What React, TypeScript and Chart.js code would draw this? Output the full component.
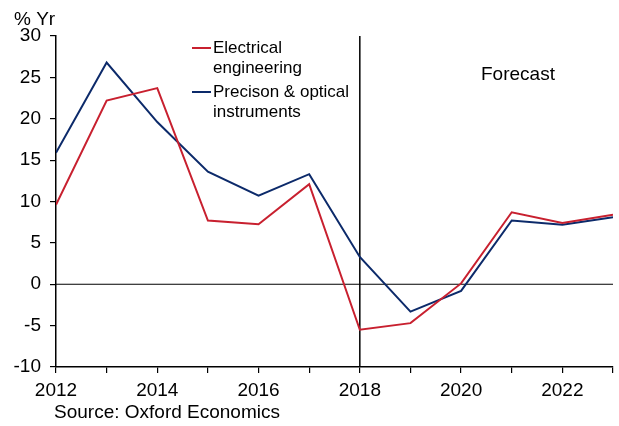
import React, { useEffect, useRef } from "react";
import { Chart, registerables } from "chart.js";

Chart.register(...registerables);

const years = [2012, 2013, 2014, 2015, 2016, 2017, 2018, 2019, 2020, 2021, 2022, 2023];
const electrical = [9.6, 22.2, 23.7, 7.7, 7.25, 12.1, -5.5, -4.7, 0.1, 8.7, 7.4, 8.4];
const precision = [15.9, 26.8, 19.6, 13.6, 10.7, 13.3, 3.3, -3.3, -0.8, 7.7, 7.2, 8.1];
const seriesNames = ["Electrical|engineering", "Precison & optical|instruments"];
const forecastYear = 2018;
const yTicks = [-10, -5, 0, 5, 10, 15, 20, 25, 30];

const RED = "#C8202F";
const BLUE = "#0C2A6A";
const FONT = "'Liberation Sans', Arial, sans-serif";

export default function App() {
  const ref = useRef<HTMLCanvasElement>(null);
  useEffect(() => {
    const ctx = ref.current!;
    const overlay = {
      id: "overlay",
      beforeDatasetsDraw(chart: any) {
        const c = chart.ctx;
        const xs = chart.scales.x;
        const ys = chart.scales.y;
        const area = chart.chartArea;
        c.save();
        c.strokeStyle = "#000";
        c.lineWidth = 1.2;
        const y0 = ys.getPixelForValue(0);
        c.beginPath();
        c.moveTo(area.left, y0);
        c.lineTo(area.right, y0);
        c.stroke();
        const xf = xs.getPixelForValue(forecastYear);
        c.lineWidth = 1.5;
        c.beginPath();
        c.moveTo(xf, area.top);
        c.lineTo(xf, area.bottom);
        c.stroke();
        c.restore();
      },
      afterDraw(chart: any) {
        const c = chart.ctx;
        c.save();
        c.fillStyle = "#000";
        c.textBaseline = "middle";
        c.textAlign = "left";
        c.font = `19px ${FONT}`;
        c.fillText("% Yr", 14, 20);
        c.fillText("Forecast", 481, 75);
        c.fillText("Source: Oxford Economics", 54, 413);
        // legend
        c.font = `17px ${FONT}`;
        const colors = [RED, BLUE];
        const ys0 = [48, 92];
        seriesNames.forEach((n, i) => {
          const y = ys0[i];
          c.strokeStyle = colors[i];
          c.lineWidth = 2;
          c.beginPath();
          c.moveTo(192, y);
          c.lineTo(211, y);
          c.stroke();
          n.split("|").forEach((line, j) => {
            c.fillText(line, 213, y + j * 20);
          });
        });
        c.restore();
      },
    };
    const chart = new Chart(ctx, {
      type: "line",
      data: {
        datasets: [
          {
            label: "Electrical engineering",
            data: years.map((y, i) => ({ x: y, y: electrical[i] })),
            borderColor: RED,
            borderWidth: 2,
            pointRadius: 0,
            tension: 0,
          },
          {
            label: "Precison & optical instruments",
            data: years.map((y, i) => ({ x: y, y: precision[i] })),
            borderColor: BLUE,
            borderWidth: 2,
            pointRadius: 0,
            tension: 0,
          },
        ],
      },
      options: {
        animation: false,
        responsive: false,
        devicePixelRatio: 1,
        layout: { padding: { top: 36, right: 5, left: 0, bottom: 0 } },
        plugins: { legend: { display: false }, tooltip: { enabled: false } },
        scales: {
          x: {
            type: "linear",
            min: 2012,
            max: 2023,
            afterFit(s: any) {
              s.height = 59;
            },
            afterBuildTicks(s: any) {
              s.ticks = years.map((v) => ({ value: v }));
            },
            grid: { display: true, drawOnChartArea: false, drawTicks: true, tickLength: 6, color: "#000", lineWidth: 1.2 },
            border: { display: true, color: "#000", width: 1.5 },
            ticks: {
              color: "#000",
              font: { family: FONT, size: 19 },
              padding: 6,
              maxRotation: 0,
              autoSkip: false,
              callback: (v: any) => (Number(v) % 2 === 0 ? String(v) : ""),
            },
          },
          y: {
            min: -10,
            max: 30,
            afterFit(s: any) {
              s.width = 56;
            },
            afterBuildTicks(s: any) {
              s.ticks = yTicks.map((v) => ({ value: v }));
            },
            grid: { display: true, drawOnChartArea: false, drawTicks: true, tickLength: 6, color: "#000", lineWidth: 1.2 },
            border: { display: true, color: "#000", width: 1.5 },
            ticks: {
              color: "#000",
              font: { family: FONT, size: 19 },
              padding: 9,
              callback: (v: any) => String(v),
            },
          },
        },
      },
      plugins: [overlay],
    } as any);
    return () => chart.destroy();
  }, []);
  return (
    <div style={{ position: "fixed", left: 0, top: 0, width: 619, height: 426, background: "#fff" }}>
      <canvas ref={ref} width={619} height={426} style={{ width: 619, height: 426 }} />
    </div>
  );
}
